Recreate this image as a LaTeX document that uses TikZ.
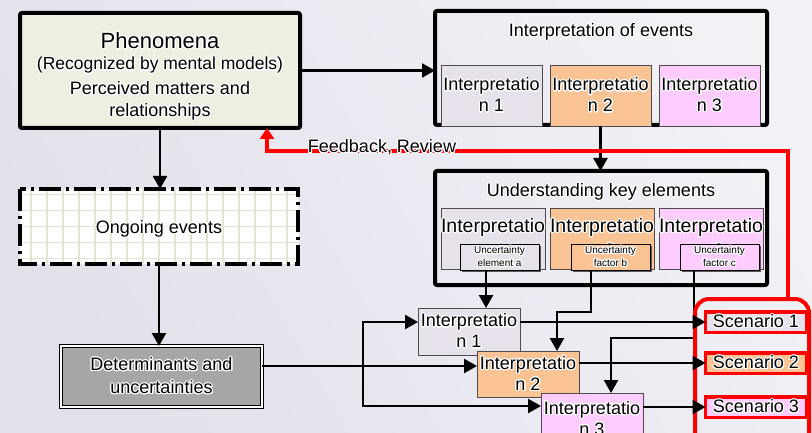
\documentclass[tikz,border=0pt]{standalone}
\usepackage{fontspec}
\setmainfont{Liberation Sans}
\usepackage[copies]{contour}
\contourlength{1.1pt}
\usetikzlibrary{arrows.meta,shadows}
\definecolor{bgA}{HTML}{E3E0EB}
\definecolor{bgB}{HTML}{F2F1F6}
\definecolor{cone}{HTML}{E6E1EB}
\definecolor{ctwo}{HTML}{F9C393}
\definecolor{cthree}{HTML}{FFCCFF}
\definecolor{cphen}{HTML}{EDF0E1}
\definecolor{cdet}{HTML}{A6A6A6}
\definecolor{cgrid}{HTML}{E2E5CF}
\newcommand{\hl}[1]{\contour{white}{#1}}
\newcommand{\fs}[2]{\fontsize{#1}{#2}\selectfont}
\tikzset{
  every node/.style={inner sep=0pt, outer sep=0pt},
  bigbox/.style={draw=black, line width=4pt, rounded corners=2pt, anchor=north west},
  sub/.style={draw=black!70, line width=0.8pt, anchor=north west, minimum width=101pt, align=center},
  unc/.style={draw=black, line width=0.8pt, anchor=north west, minimum width=79pt, minimum height=26pt,
     align=center, font=\fs{10}{12.5},
     drop shadow={shadow xshift=2pt, shadow yshift=-2pt, fill=black!65, opacity=1}},
  scen/.style={draw=red, line width=3.5pt, minimum width=101pt, minimum height=20.5pt, font=\fs{18}{21}},
  conn/.style={line width=2.4pt, -{Triangle[length=13pt,width=14pt]}},
  fbline/.style={draw=red, line width=4pt, -{Triangle[length=11pt,width=14pt]}, color=red},
}
\begin{document}
\begin{tikzpicture}[x=1pt,y=-1pt]
\useasboundingbox (0,0) rectangle (812,433);
\clip (0,0) rectangle (812,433);
\shade[left color=bgA, right color=bgB, shading angle=120] (0,0) rectangle (812,433);

% ---- left column
\node[bigbox, fill=cphen, minimum width=280, minimum height=115] (phen) at (20,13) {};
\node[font=\fs{22}{26}] (pt1) at (160,41) {\hl{Phenomena}};
\node[font=\fs{17.5}{21}] (pt2) at (160,66) {\hl{(Recognized by mental models)}};
\node[font=\fs{18}{21}] (pt3) at (160,89) {\hl{Perceived matters and}};
\node[font=\fs{18}{21}] (pt4) at (160,112) {\hl{relationships}};

\node[anchor=north west, minimum width=278, minimum height=75, fill=white,
  path picture={\draw[cgrid, line width=1.2pt, step=16pt] (path picture bounding box.south west) grid (path picture bounding box.north east);}]
  (ongoing) at (20,189) {};
\draw[line width=4pt, dash pattern=on 22pt off 5pt on 3pt off 5pt] (ongoing.north west) rectangle (ongoing.south east);
\node[font=\fs{18}{21}] (ot) at (159,229) {\hl{Ongoing events}};

\node[anchor=north west, draw=black, line width=0.8pt, double=white, double distance=2pt, fill=cdet,
  minimum width=201, minimum height=61, align=center, font=\fs{18}{23}] (det) at (61,346)
  {\hl{Determinants and}\\\hl{uncertainties}};

% ---- interpretation of events
\node[bigbox, fill=none, minimum width=332, minimum height=114] (iev) at (435,11) {};
\node[font=\fs{18}{21}] (tev) at (601,32) {\hl{Interpretation of events}};
\node[sub, fill=cone, minimum height=61, font=\fs{18}{21}] (i1) at (441,65) {\hl{Interpretatio}\\\hl{n 1}};
\node[sub, fill=ctwo, minimum height=61, font=\fs{18}{21}] (i2) at (550,65) {\hl{Interpretatio}\\\hl{n 2}};
\node[sub, fill=cthree, minimum height=61, font=\fs{18}{21}] (i3) at (659,65) {\hl{Interpretatio}\\\hl{n 3}};

% ---- understanding key elements
\node[bigbox, fill=none, minimum width=332, minimum height=114] (ukey) at (435,171) {};
\node[font=\fs{18}{21}] (tkey) at (601,192) {\hl{Understanding key elements}};
\node[sub, fill=cone, minimum height=61, font=\fs{19.5}{25}] (u1) at (441,208) {\hl{Interpretatio}\\\hl{n 1}};
\node[sub, fill=ctwo, minimum height=61, font=\fs{19.5}{25}] (u2) at (550,208) {\hl{Interpretatio}\\\hl{n 2}};
\node[sub, fill=cthree, minimum height=61, font=\fs{19.5}{25}] (u3) at (659,208) {\hl{Interpretatio}\\\hl{n 3}};
\node[unc, fill=cone] (ua) at (460,244) {\hl{Uncertainty}\\\hl{element a}};
\node[unc, fill=ctwo] (ub) at (571,244) {\hl{Uncertainty}\\\hl{factor b}};
\node[unc, fill=cthree] (uc) at (680,244) {\hl{Uncertainty}\\\hl{factor c}};

% ---- lower interpretations
\node[sub, fill=cone, minimum width=102, minimum height=47, font=\fs{18}{21}] (l1) at (418,308) {\hl{Interpretatio}\\\hl{n 1}};
\node[sub, fill=ctwo, minimum width=102, minimum height=46, font=\fs{18}{21}] (l2) at (477,351) {\hl{Interpretatio}\\\hl{n 2}};
\node[sub, fill=cthree, minimum width=102, minimum height=52, font=\fs{18}{21}] (l3) at (541,393) {\hl{Interpretatio}\\\hl{n 3}};

% ---- coordinates
\coordinate (r1) at (0,322);
\coordinate (r2) at (0,366);
\coordinate (r3) at (0,406);
\coordinate (jx) at (363,366);
\coordinate (ka) at (486,0);
\coordinate (kb) at (591,312);
\coordinate (kb2) at (557,312);
\coordinate (kc) at (694,338);
\coordinate (kc2) at (611,338);
\coordinate (fb1) at (788,299);
\coordinate (fb2) at (788,151);
\coordinate (fb3) at (267,151);

% ---- connectors
\draw[conn] (phen.east) -- (iev.west |- phen.east);
\draw[conn] (phen.south) -- (ongoing.north -| phen.south);
\draw[conn] (ongoing.south) -- (det.north -| ongoing.south);
\draw[conn] (i2.south) -- (ukey.north -| i2.south);
\draw[conn] (ua.south -| ka) -- (l1.north -| ka);
\draw[conn] (ub.south -| kb) -- (kb) -- (kb2) -- (l2.north -| kb2);
\draw[conn] (uc.south -| kc) -- (kc) -- (kc2) -- (l3.north -| kc2);
\draw[conn] (det.east |- r2) -- (l2.west |- r2);
\draw[conn] (jx) |- (l1.west |- r1);
\draw[conn] (jx) |- (l3.west |- r3);

% ---- feedback
\draw[fbline] (fb1) -- (fb2) -- (fb3) -- (phen.south -| fb3);
\node[font=\fs{18}{21}] (fbl) at (382,148) {\hl{Feedback, Review}};

% ---- scenarios
\node[anchor=north west, draw=red, line width=4pt, rounded corners=14pt, minimum width=114, minimum height=170] (sgrp) at (695,299) {};
\node[scen, fill=cone] (s1) at (756,322) {\hl{Scenario 1}};
\node[scen, fill=ctwo] (s2) at (756,363) {\hl{Scenario 2}};
\node[scen, fill=cthree] (s3) at (756,407) {\hl{Scenario 3}};
\draw[conn] (l1.east |- s1) -- (s1.west);
\draw[conn] (l2.east |- s2) -- (s2.west);
\draw[conn] (l3.east |- s3) -- (s3.west);
\end{tikzpicture}
\end{document}
